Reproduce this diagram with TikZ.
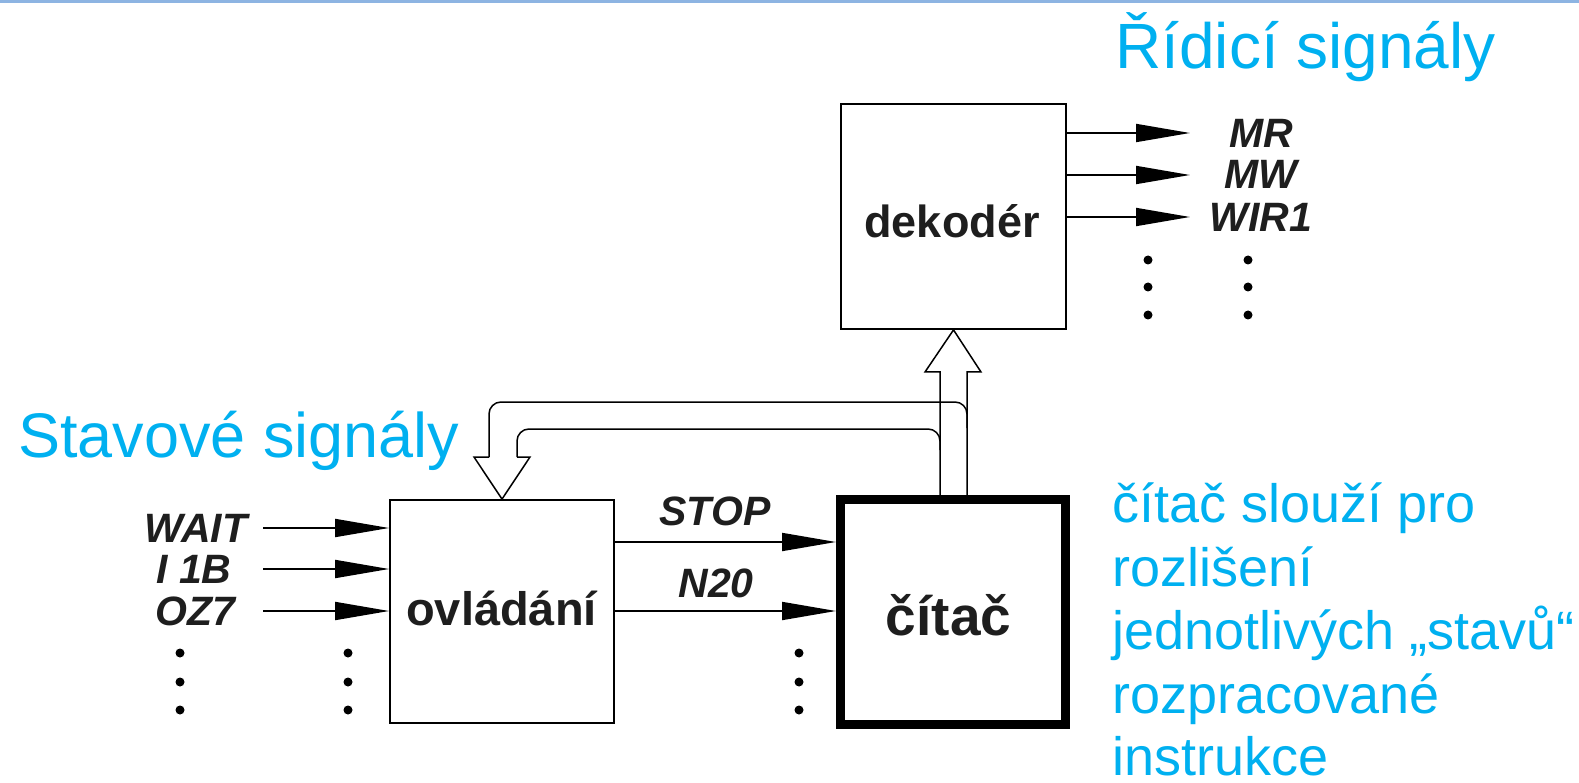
\documentclass[tikz,border=0pt]{standalone}
\usepackage{fontspec}
\setmainfont{Liberation Sans}
\usetikzlibrary{arrows.meta}
\definecolor{capblue}{RGB}{0,176,240}
\definecolor{topblue}{RGB}{141,180,226}
\definecolor{inkgray}{RGB}{30,30,30}
\begin{document}
\begin{tikzpicture}[x=1pt,y=-1pt,
  blk/.style={draw=black,line width=1.8pt,minimum width=225pt,minimum height=225pt,inner sep=0pt},
  thickblk/.style={draw=black,line width=9pt,minimum width=225pt,minimum height=225pt,inner sep=0pt},
  blktext/.style={inner sep=0pt,anchor=base,text=inkgray,font=\fontsize{45}{45}\selectfont\bfseries},
  sig/.style={inner sep=0pt,anchor=base,text=inkgray,font=\fontsize{41}{41}\selectfont\bfseries\itshape},
  sigline/.style={line width=1.8pt,-{Triangle[length=54pt,width=18pt]}},
  bus/.style={line width=1.5pt},
  captxt/.style={inner sep=0pt,anchor=base west,text=capblue},
  dotfill/.style={fill=black}
]
\useasboundingbox (0,0) rectangle (1579,783);
\fill[topblue] (0,0) rectangle (1579,3);

% blocks
\node[blk] (dek) at (953.5,216.5) {};
\node[blk,minimum width=224pt,minimum height=223pt] (ovl) at (502,611.5) {};
\node[thickblk] (cit) at (953,612) {};
\node[blktext] (dekt) at (952,238) {dekodér};
\node[blktext,font=\fontsize{47}{47}\selectfont\bfseries] (ovlt) at (501.5,625) {ovládání};
\node[blktext,font=\fontsize{55}{55}\selectfont\bfseries] (citt) at (948.5,635) {čítač};

% captions
\node[captxt,font=\fontsize{64}{64}\selectfont] (rid) at (1115,69) {Řídicí signály};
\node[captxt,font=\fontsize{63}{63}\selectfont] (stav) at (18,457) {Stavové signály};
\node[captxt,font=\fontsize{54}{54}\selectfont] (r1) at (1112,522) {čítač slouží pro};
\node[captxt,font=\fontsize{54}{54}\selectfont] (r2) at (1112,586) {rozlišení};
\node[captxt,font=\fontsize{54}{54}\selectfont] (r3) at (1112,649) {jednotlivých „stavů“};
\node[captxt,font=\fontsize{54}{54}\selectfont] (r4) at (1112,713) {rozpracované};
\node[captxt,font=\fontsize{54}{54}\selectfont] (r5) at (1112,775) {instrukce};

% decoder outputs
\coordinate (mr) at (1190,133);
\coordinate (mw) at (1190,175);
\coordinate (wir) at (1190,217);
\draw[sigline] (dek.east |- mr) -- (mr);
\draw[sigline] (dek.east |- mw) -- (mw);
\draw[sigline] (dek.east |- wir) -- (wir);
\node[sig] (lmr) at (1261,148) {MR};
\node[sig] (lmw) at (1261,189) {MW};
\node[sig] (lwir) at (1261,232) {WIR1};

% inputs
\coordinate (win) at (263,528);
\coordinate (iin) at (263,569);
\coordinate (oin) at (263,611);
\draw[sigline] (win) -- (win -| ovl.west);
\draw[sigline] (iin) -- (iin -| ovl.west);
\draw[sigline] (oin) -- (oin -| ovl.west);
\node[sig] (lwait) at (196,542) {WAIT};
\node[sig] (li1b) at (194,583) {I 1B};
\node[sig] (loz7) at (195,625) {OZ7};

% ovladani -> citac
\coordinate (stopy) at (700,542);
\coordinate (n20y) at (700,611);
\draw[sigline] (ovl.east |- stopy) -- (stopy -| cit.west);
\draw[sigline] (ovl.east |- n20y) -- (n20y -| cit.west);
\node[sig] (lstop) at (715,525) {STOP};
\node[sig] (ln20) at (716,597) {N20};

% dots
\foreach \x in {180,348,799}{
  \foreach \y in {653,682,710}{\fill[dotfill] (\x,\y) circle (4.5pt);}
}
\foreach \x in {1148,1248}{
  \foreach \y in {260,287,315}{\fill[dotfill] (\x,\y) circle (4.5pt);}
}

% bus: citac -> dekoder
\coordinate (bl) at (940,0);
\coordinate (br) at (967,0);
\draw[bus] (bl |- cit.north) -- (940,372) -- (925,372) -- (dek.south) -- (981,372) -- (967,372) -- (br |- cit.north);
% bus: citac -> ovladani
\draw[bus,rounded corners=12pt] (967,428) -- (967,402) -- (489,402) -- (489,457);
\draw[bus] (489,457) -- (474,457) -- (ovl.north) -- (530,457) -- (517,457);
\draw[bus,rounded corners=12pt] (517,457) -- (517,429) -- (940,429) -- (940,450);
\end{tikzpicture}
\end{document}
